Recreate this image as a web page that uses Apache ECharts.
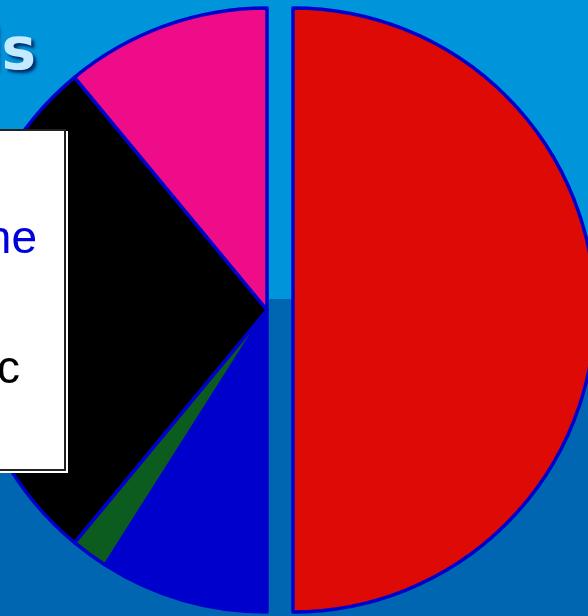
<!DOCTYPE html>
<html>
<head>
<meta charset="utf-8">
<script src="https://cdn.jsdelivr.net/npm/echarts@6/dist/echarts.min.js"></script>
<style>
  html, body { margin: 0; padding: 0; }
  #chart { width: 588px; height: 616px; }
</style>
</head>
<body>
<div id="chart"></div>
<script>
// Slice shares in percent, clockwise from 12 o'clock
const sliceNames = ['red', 'blue', 'green', 'black', 'pink'];
const sliceValues = [50, 9, 2, 28, 11];
const sliceColors = ['#DE0A06', '#0000CC', '#0B5C1E', '#000000', '#EE0C88'];
const explodedSlice = 'red';

// Visible text fragments
const titleText = 'ls';
const legendTexts = ['ne', 'c'];
const legendColors = ['#0000DD', '#000000'];

const chart = echarts.init(document.getElementById('chart'), null, { renderer: 'canvas' });

const pieData = sliceNames.map((n, i) => ({
  name: n,
  value: sliceValues[i],
  selected: n === explodedSlice,
  itemStyle: { color: sliceColors[i] }
}));

chart.setOption({
  animation: false,
  backgroundColor: {
    type: 'linear', x: 0, y: 0, x2: 0, y2: 1,
    colorStops: [
      { offset: 0, color: '#0094DA' },
      { offset: 0.485, color: '#0094DA' },
      { offset: 0.486, color: '#0066B2' },
      { offset: 1, color: '#0066B2' }
    ]
  },
  series: [{
    type: 'pie',
    center: [267, 310],
    radius: [0, 302],
    startAngle: 90,
    clockwise: true,
    selectedMode: 'single',
    selectedOffset: 26,
    label: { show: false },
    labelLine: { show: false },
    emphasis: { disabled: true },
    itemStyle: { borderColor: '#0000CC', borderWidth: 3.5 },
    data: pieData
  }],
  graphic: [
    {
      type: 'text', z: 10,
      style: {
        x: 36, y: 54, text: titleText, align: 'right', verticalAlign: 'middle',
        font: 'bold 58px "DejaVu Sans"', fill: '#C4EAFF',
        textShadowColor: 'rgba(0,20,80,0.8)', textShadowOffsetX: 3, textShadowOffsetY: 3, textShadowBlur: 3
      }
    },
    { type: 'rect', z: 10, shape: { x: -10, y: 131, width: 78, height: 342 }, style: { fill: '#FFFFFF' } },
    { type: 'rect', z: 11, shape: { x: -10, y: 130, width: 75, height: 340 }, style: { fill: '#FFFFFF', stroke: '#222222', lineWidth: 2 } },
    {
      type: 'text', z: 12,
      style: { x: 37, y: 240, text: legendTexts[0], align: 'right', verticalAlign: 'middle', font: '46px "Liberation Sans"', fill: legendColors[0] }
    },
    {
      type: 'text', z: 12,
      style: { x: 20, y: 370, text: legendTexts[1], align: 'right', verticalAlign: 'middle', font: '46px "Liberation Sans"', fill: legendColors[1] }
    }
  ]
});
</script>
</body>
</html>
